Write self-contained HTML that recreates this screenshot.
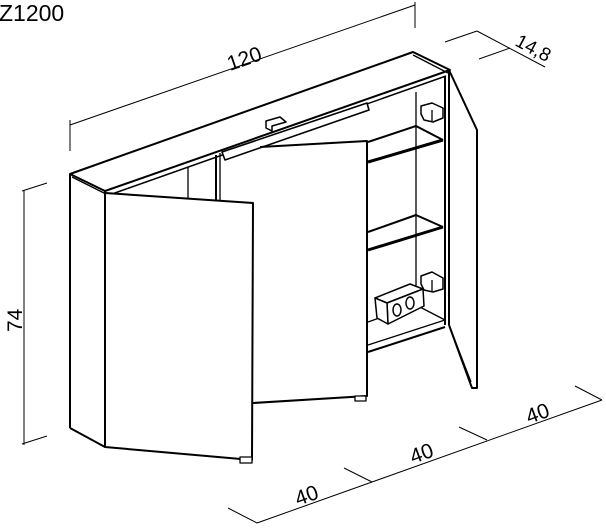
<!DOCTYPE html>
<html><head><meta charset="utf-8"><style>
html,body{margin:0;padding:0;background:#fff;width:606px;height:528px;overflow:hidden}
svg{display:block}
text{font-family:"Liberation Sans",sans-serif;fill:#000}
</style></head><body>
<svg width="606" height="528" viewBox="0 0 606 528" xmlns="http://www.w3.org/2000/svg">
<text x="-1" y="21" font-size="23">Z1200</text>
<g stroke="#000" stroke-width="1" fill="none">
<line x1="70" y1="125" x2="415" y2="5"/>
<line x1="70" y1="120" x2="70" y2="151"/>
<line x1="415" y1="2" x2="415" y2="28"/>
<line x1="477" y1="31" x2="545" y2="67"/>
<line x1="445" y1="42" x2="477" y2="31"/>
<line x1="479" y1="59" x2="510" y2="48"/>
<line x1="24" y1="190" x2="24" y2="445"/>
<line x1="22" y1="191" x2="47" y2="183"/>
<line x1="22" y1="444" x2="47" y2="436"/>
<line x1="257" y1="523" x2="602" y2="400"/>
<line x1="228" y1="508" x2="257" y2="523"/>
<line x1="344" y1="468" x2="372" y2="482"/>
<line x1="459" y1="427" x2="487" y2="440"/>
<line x1="575" y1="386" x2="602" y2="400"/>
</g>
<text x="0" y="0" font-size="21" transform="translate(230,71) rotate(-19)">120</text>
<text x="0" y="0" font-size="19" transform="translate(514,45) rotate(28)">14,8</text>
<text x="0" y="0" font-size="21" transform="translate(22,332) rotate(-90)">74</text>
<text x="0" y="0" font-size="21" transform="translate(298,506) rotate(-20)">40</text>
<text x="0" y="0" font-size="21" transform="translate(413,464) rotate(-20)">40</text>
<text x="0" y="0" font-size="21" transform="translate(529,424) rotate(-20)">40</text>

<g stroke="#000" stroke-width="2" fill="none" stroke-linejoin="round">
<polyline points="105,191 70,174 413,52 450,70 105,191"/>
<line x1="72" y1="177" x2="106" y2="194" stroke-width="1.3"/>
<line x1="413" y1="55" x2="448" y2="73" stroke-width="1.3"/>
<line x1="112" y1="194" x2="446" y2="76" stroke-width="1.5"/>
<line x1="70" y1="174" x2="70" y2="428"/>
<line x1="105" y1="191" x2="105" y2="447"/>
<line x1="70" y1="428" x2="105" y2="447"/>
<line x1="216" y1="155" x2="216" y2="201"/>
<line x1="220" y1="153" x2="220" y2="201" stroke-width="1.3"/>
<line x1="188" y1="167" x2="188" y2="198" stroke-width="1.3"/>
<polygon points="222,152 367,103 369,110 225,160" stroke-width="1.6" fill="#fff"/>
<polygon points="266,121 280,117 286,122 272,126 272,131 266,128" stroke-width="1.5" fill="#fff"/>
<polygon points="105,193 253,203 252,460 105,447" fill="#fff"/>
<rect x="240" y="457" width="12" height="6" stroke-width="1.3" fill="#fff"/>
<polyline points="260,147 367,141 367,396 253,403"/>
<rect x="355" y="396" width="11" height="5" stroke-width="1.3" fill="#fff"/>
<line x1="416" y1="92" x2="416" y2="305" stroke-width="1.3"/>
<line x1="445" y1="76" x2="445" y2="325"/>
<line x1="449" y1="70" x2="449" y2="325"/>
<line x1="368" y1="162" x2="443" y2="140" stroke-width="3"/>
<line x1="368" y1="142" x2="416" y2="126" stroke-width="2"/>
<line x1="416" y1="126" x2="443" y2="140" stroke-width="2"/>
<line x1="368" y1="250" x2="443" y2="227" stroke-width="3"/>
<line x1="368" y1="232" x2="416" y2="215" stroke-width="2"/>
<line x1="416" y1="215" x2="443" y2="227" stroke-width="2"/>
<line x1="368" y1="352" x2="445" y2="327" stroke-width="2"/>
<line x1="368" y1="345" x2="445" y2="320" stroke-width="1.3"/>
<line x1="368" y1="322" x2="416" y2="305" stroke-width="1.3"/>
<line x1="416" y1="305" x2="445" y2="320" stroke-width="1.3"/>
<polygon points="421,106 432,103 443,108 443,118 433,122 424,120 421,114" stroke-width="1.5" fill="#fff"/>
<line x1="432" y1="110" x2="432" y2="121" stroke-width="1.3"/>
<polygon points="421,276 432,272 443,278 443,289 433,292 424,290 421,284" stroke-width="1.5" fill="#fff"/>
<line x1="432" y1="280" x2="432" y2="291" stroke-width="1.3"/>
<polygon points="375,298 410,284 423,289 387,303" stroke-width="1.5" fill="#fff"/>
<polygon points="387,303 423,289 424,306 388,324" stroke-width="1.5" fill="#fff"/>
<polygon points="375,298 387,303 388,324 377,318" stroke-width="1.5" fill="#fff"/>
<ellipse cx="397" cy="310" rx="4" ry="6" stroke-width="1.5"/>
<ellipse cx="410" cy="303" rx="4" ry="6" stroke-width="1.5"/>
<polyline points="449,70 477,130 477,388 472,388 449,325"/>
<line x1="449" y1="325" x2="471" y2="382" stroke-width="1.3"/>
</g>
</svg>
</body></html>
